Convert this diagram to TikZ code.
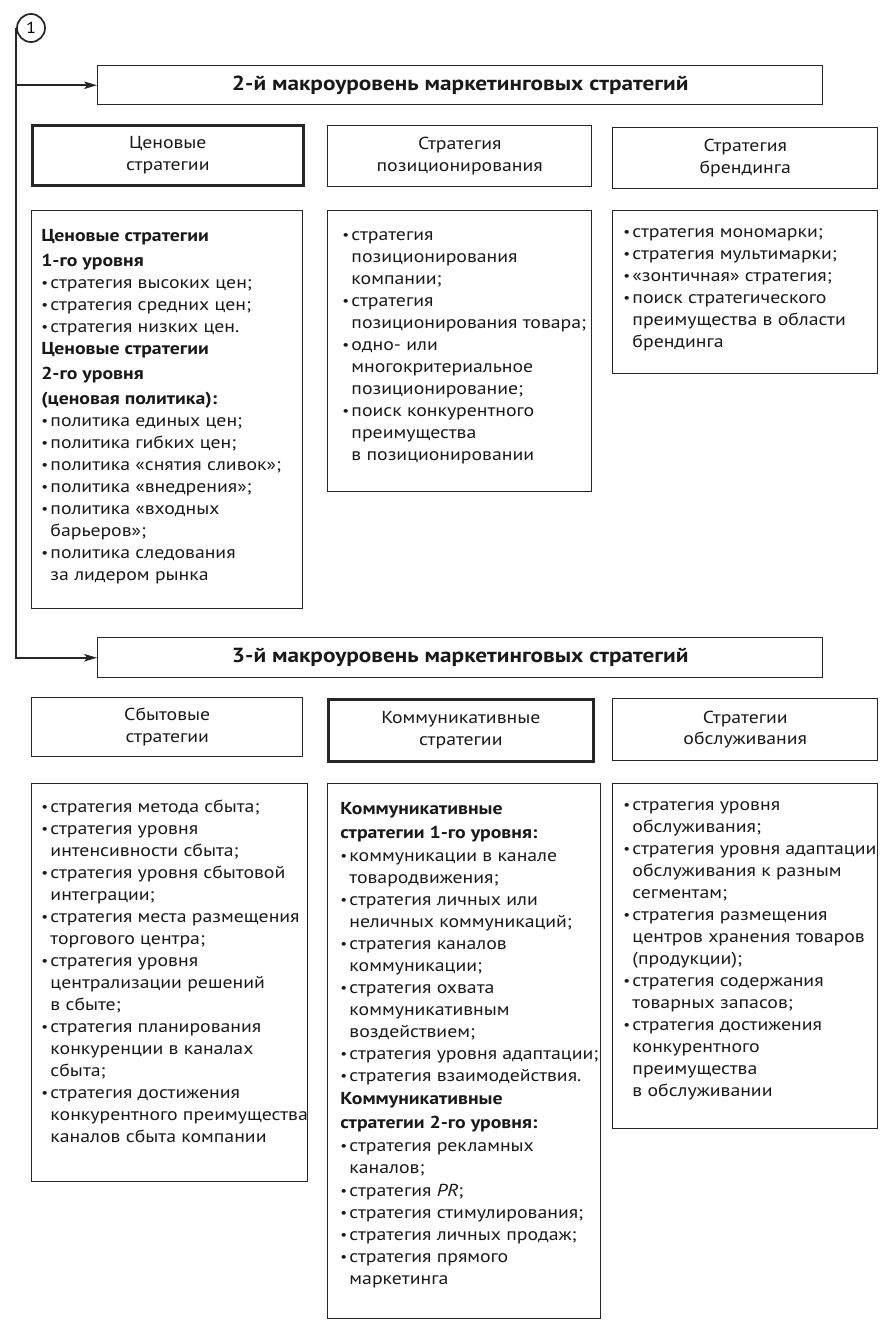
\documentclass[tikz,border=0pt]{standalone}
\usepackage{fontspec}
\setmainfont{PT Sans}[FakeStretch=1.14]
\usetikzlibrary{arrows.meta}
\tikzset{
  box/.style={draw=black!85, line width=1.1pt, inner sep=0pt, align=center, text=black!90, font=\fontsize{13}{16.2}\selectfont},
  thickbox/.style={box, line width=2pt},
  macro/.style={box, font=\bfseries\fontsize{15.3}{16}\selectfont},
  body/.style={align=left, anchor=north west, inner sep=0pt, text=black!90, font=\fontsize{13}{16.5}\selectfont},
  conn/.style={line width=1.5pt, draw=black!85},
  tip/.style={-{Stealth[length=9.5pt,width=5.5pt,inset=2pt]}},
}
\newcommand\mybox[6]{\node[#6, anchor=north west, minimum width={(#4-#2)*0.75pt}, minimum height={(#5-#3)*0.75pt}] (#1) at (#2,#3)}
\newcommand\B{\makebox[6.9pt][l]{\raisebox{0.6pt}{\fontsize{10}{10}\selectfont •}}}
\newcommand\C{\hspace*{6.9pt}}
\newcommand\Top{\rule{0pt}{10pt}}
\begin{document}
\begin{tikzpicture}[x=0.75pt,y=-0.75pt]
\useasboundingbox (0,0) rectangle (886,1327);
% circle
\node[draw=black!85, circle, minimum size=21pt, inner sep=0pt, line width=1.3pt, font=\fontsize{12}{12}\selectfont] (one) at (31,28) {1};
% macro levels
\mybox{m2}{97}{65}{822}{104}{macro} {2-й макроуровень маркетинговых стратегий};
\mybox{m3}{97}{637}{822}{677}{macro} {3-й макроуровень маркетинговых стратегий};
\draw[conn, tip] (one.west) |- (m3.west);
\draw[conn, tip] (one.west |- m2.west) -- (m2.west);
% top row headers
\mybox{h1}{31}{124}{302}{184}{thickbox} {Ценовые\\стратегии};
\mybox{h2}{327}{125}{591}{186}{box} {Стратегия\\позиционирования};
\mybox{h3}{612}{127}{877}{188}{box} {Стратегия\\брендинга};
% top row content boxes
\mybox{c1}{31}{210}{302}{608}{box} {};
\mybox{c2}{327}{210}{591}{491}{box} {};
\mybox{c3}{612}{210}{877}{373}{box} {};
\node[body] (t1) at (41,227.7) {\Top\textbf{Ценовые стратегии}\\[2.25pt]
\textbf{1-го уровня}\\
\B стратегия высоких цен;\\
\B стратегия средних цен;\\
\B стратегия низких цен.\\
\textbf{Ценовые стратегии}\\[2.25pt]
\textbf{2-го уровня}\\[2.25pt]
\textbf{(ценовая политика):}\\
\B политика единых цен;\\
\B политика гибких цен;\\
\B политика «снятия сливок»;\\
\B политика «внедрения»;\\
\B политика «входных\\
\C барьеров»;\\
\B политика следования\\
\C за лидером рынка};
\node[body] (t2) at (342,226.7) {\Top\B стратегия\\
\C позиционирования\\
\C компании;\\
\B стратегия\\
\C позиционирования товара;\\
\B одно- или\\
\C многокритериальное\\
\C позиционирование;\\
\B поиск конкурентного\\
\C преимущества\\
\C в позиционировании};
\node[body] (t3) at (623,224) {\Top\B стратегия мономарки;\\
\B стратегия мультимарки;\\
\B «зонтичная» стратегия;\\
\B поиск стратегического\\
\C преимущества в области\\
\C брендинга};
% bottom row headers
\mybox{h4}{31}{697}{302}{756}{box} {Сбытовые\\стратегии};
\mybox{h5}{327}{698}{592}{760}{thickbox} {Коммуникативные\\стратегии};
\mybox{h6}{612}{698}{877}{760}{box} {Стратегии\\обслуживания};
% bottom row content boxes
\mybox{c4}{31}{783}{307}{1181}{box} {};
\mybox{c5}{327}{783}{600}{1318}{box} {};
\mybox{c6}{612}{783}{877}{1128}{box} {};
\node[body] (t4) at (41,798.7) {\Top\B стратегия метода сбыта;\\
\B стратегия уровня\\
\C интенсивности сбыта;\\
\B стратегия уровня сбытовой\\
\C интеграции;\\
\B стратегия места размещения\\
\C торгового центра;\\
\B стратегия уровня\\
\C централизации решений\\
\C в сбыте;\\
\B стратегия планирования\\
\C конкуренции в каналах\\
\C сбыта;\\
\B стратегия достижения\\
\C конкурентного преимущества\\
\C каналов сбыта компании};
\node[body] (t5) at (340,800.7) {\Top\textbf{Коммуникативные}\\[1.5pt]
\textbf{стратегии 1-го уровня:}\\[0.75pt]
\B коммуникации в канале\\
\C товародвижения;\\
\B стратегия личных или\\
\C неличных коммуникаций;\\
\B стратегия каналов\\
\C коммуникации;\\
\B стратегия охвата\\
\C коммуникативным\\
\C воздействием;\\
\B стратегия уровня адаптации;\\
\B стратегия взаимодействия.\\[0.75pt]
\textbf{Коммуникативные}\\[1.5pt]
\textbf{стратегии 2-го уровня:}\\[0.75pt]
\B стратегия рекламных\\
\C каналов;\\[0.75pt]
\B стратегия \textit{PR};\\
\B стратегия стимулирования;\\
\B стратегия личных продаж;\\
\B стратегия прямого\\
\C маркетинга};
\node[body] (t6) at (623,796.7) {\Top\B стратегия уровня\\
\C обслуживания;\\
\B стратегия уровня адаптации\\
\C обслуживания к разным\\
\C сегментам;\\
\B стратегия размещения\\
\C центров хранения товаров\\
\C (продукции);\\
\B стратегия содержания\\
\C товарных запасов;\\
\B стратегия достижения\\
\C конкурентного\\
\C преимущества\\
\C в обслуживании};
\end{tikzpicture}
\end{document}
